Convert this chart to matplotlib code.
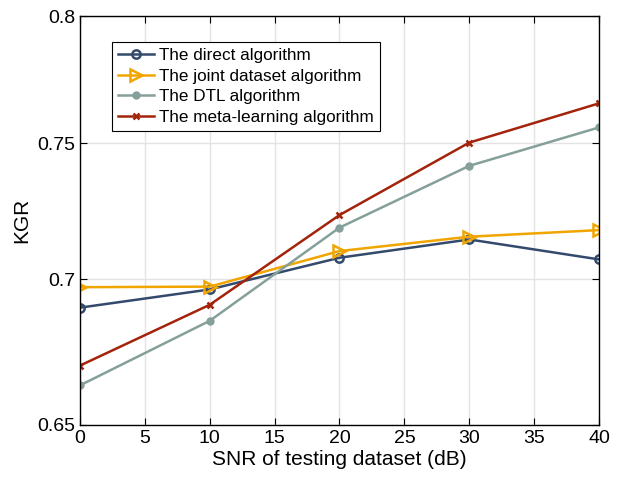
import numpy as np
import matplotlib.pyplot as plt
from matplotlib.ticker import FixedLocator, FixedFormatter, NullLocator

plt.rcParams['font.family'] = ['Liberation Sans', 'DejaVu Sans']

snr = [0, 10, 20, 30, 40]
direct = [0.6899, 0.6963, 0.7076, 0.7142, 0.7070]
joint = [0.6971, 0.6973, 0.7100, 0.7152, 0.7176]
dtl = [0.6632, 0.6853, 0.7185, 0.7414, 0.7560]
meta = [0.6699, 0.6909, 0.7231, 0.7502, 0.7653]

yticks = [0.65, 0.7, 0.75, 0.8]
yticklabels = ['0.65', '0.7', '0.75', '0.8']

fig = plt.figure(figsize=(6.18, 4.82), dpi=100)
ax = fig.add_axes([0.1294, 0.1183, 0.8399, 0.8485])

ax.plot(snr, direct, color='#334a6c', lw=1.8, marker='o', ms=6, mfc='none', mew=1.8,
        label='The direct algorithm')
ax.plot(snr, joint, color='#f0a500', lw=1.8, marker='>', ms=8, mfc='none', mew=1.8,
        label='The joint dataset algorithm')
ax.plot(snr, dtl, color='#85a09a', lw=1.8, marker='.', ms=10,
        label='The DTL algorithm')
ax.plot(snr, meta, color='#a3230b', lw=1.8, marker='x', ms=5, mew=1.8,
        label='The meta-learning algorithm')

ax.set_yscale('log')
ax.set_ylim(0.65, 0.8)
ax.set_xlim(0, 40)
ax.yaxis.set_major_locator(FixedLocator(yticks))
ax.yaxis.set_major_formatter(FixedFormatter(yticklabels))
ax.yaxis.set_minor_locator(NullLocator())
ax.set_xticks(np.arange(0, 41, 5))

ax.grid(True, color='#e3e3e3', lw=1.0)
ax.set_axisbelow(True)
ax.tick_params(direction='in', top=True, right=True, labelsize=14, length=5)
for s in ax.spines.values():
    s.set_linewidth(1.0)

ax.set_xlabel('SNR of testing dataset (dB)', fontsize=15, labelpad=2)
ax.set_ylabel('KGR', fontsize=15)

leg = ax.legend(loc='upper left', bbox_to_anchor=(0.045, 0.957), fontsize=12.3,
                frameon=True, fancybox=False, edgecolor='black', framealpha=1,
                handlelength=2.1, borderpad=0.35, labelspacing=0.33, handletextpad=0.3)
leg.get_frame().set_linewidth(0.8)

fig.savefig('out.png', dpi=100)
